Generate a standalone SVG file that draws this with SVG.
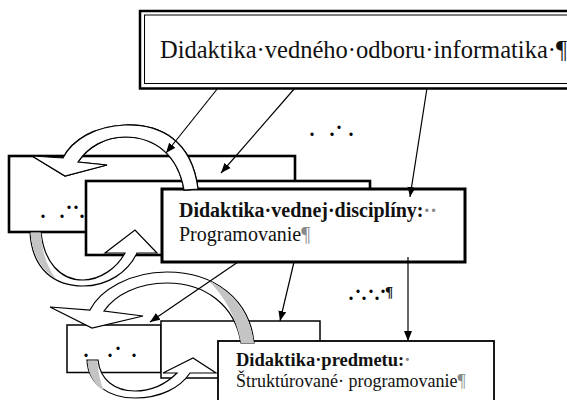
<svg xmlns="http://www.w3.org/2000/svg" width="567" height="400" viewBox="0 0 567 400">
<style>
.box{fill:#fff;stroke:#000}
.t{font-family:"Liberation Serif","Times New Roman",serif;fill:#111}
.b{font-weight:bold}
.g{fill:#888}
.dot{font-family:"Liberation Serif",serif;font-weight:bold;font-size:20px;fill:#000;text-anchor:middle}
.band{fill:#fff;stroke:#000;stroke-width:1.2;stroke-linejoin:miter}
.shade{fill:#c4c4c4;stroke:none}
.edge{fill:none;stroke:#000;stroke-width:1.2}
.conn{fill:none;stroke:#000;stroke-width:1.2;marker-end:url(#ah)}
</style>
<defs>
<marker id="ah" viewBox="0 0 10 10" refX="10" refY="5" markerWidth="10" markerHeight="10" markerUnits="userSpaceOnUse" orient="auto">
<path d="M0,1 L10,5 L0,9 Z" fill="#000"/>
</marker>
</defs>
<rect width="567" height="400" fill="#fff"/>

<g id="top">
<rect x="140" y="11" width="440" height="77.5" class="box" stroke-width="2.5"/>
<rect x="144.5" y="15" width="440" height="68.5" fill="none" stroke="#000" stroke-width="1"/>
<text class="t" x="160" y="57.5" font-size="24.5">Didaktika·vedného·odboru·informatika·¶</text>
</g>

<g id="dots-mid">
<text class="dot"><tspan x="312" y="135.5">.</tspan><tspan x="332" y="135.5">.</tspan><tspan x="339" y="128.5">.</tspan><tspan x="351" y="135.5">.</tspan></text>
</g>

<g id="box1">
<rect x="9" y="156" width="286" height="76" class="box" stroke-width="2.6"/>
<text class="dot"><tspan x="43" y="217.5">.</tspan><tspan x="62" y="217.5">.</tspan><tspan x="69" y="208.5">.</tspan><tspan x="76" y="208.5">.</tspan><tspan x="82" y="217.5">.</tspan></text>
</g>

<g id="box2">
<rect x="86" y="181" width="284" height="74" class="box" stroke-width="2.6"/>
</g>

<g id="box3">
<rect x="162" y="189" width="303" height="73" class="box" stroke-width="3"/>
<text class="t b" x="179" y="217" font-size="20">Didaktika·vednej·disciplíny:<tspan class="g">··</tspan></text>
<text class="t" x="179" y="241" font-size="20">Programovanie<tspan class="g">¶</tspan></text>
</g>

<g id="dots-right">
<text class="dot"><tspan x="351" y="299.5">.</tspan><tspan x="358" y="292.5">.</tspan><tspan x="364" y="299.5">.</tspan><tspan x="371" y="292.5">.</tspan><tspan x="377" y="299.5">.</tspan><tspan x="383" y="292.5">.</tspan></text>
<text class="t b" x="385" y="297" font-size="15">¶</text>
</g>

<g id="box4">
<rect x="67" y="325" width="94" height="47.5" class="box" stroke-width="1.5"/>
<text class="dot"><tspan x="86" y="356.5">.</tspan><tspan x="110" y="356.5">.</tspan><tspan x="118" y="349.5">.</tspan><tspan x="134" y="356.5">.</tspan></text>
</g>

<g id="box5">
<rect x="161" y="321" width="159" height="57" class="box" stroke-width="1.5"/>
</g>

<g id="box6">
<rect x="218" y="341" width="276" height="70" class="box" stroke-width="1.8"/>
<text class="t b" x="236" y="366" font-size="18.5">Didaktika·predmetu:<tspan class="g">·</tspan></text>
<text class="t" x="236" y="387" font-size="18">Štruktúrované· programovanie<tspan class="g">¶</tspan></text>
</g>

<g id="curved-arrows">
<path id="arcA" class="band" d="M198,189 C192,140 160,124 125,125 C95,126 72,140 63,158 L32,156 L65,176 L107,165 L78,162 C88,147 105,137 125,137 C155,137 178,155 184,190 Z"/>
<path class="shade" d="M170,136 C184,148 194,163 198,189 L184.5,190 C182,168 177,150 170,136 Z"/>
<use href="#arcA" class="edge" style="fill:none"/>

<path id="arcB" class="band" d="M30,232 C32,270 55,286 83,286 C108,286 128,272 137,253 L157,253 L135,230 L105,253 L125,253 C117,268 100,280 83,280 C60,280 44,262 41,232 Z"/>
<path class="shade" d="M30.5,233 C32,255 42,270 56,279 C46,266 42,250 41,233 Z"/>

<path id="arcC" class="band" d="M254,343 C250,300 215,272 167,272 C130,272 100,290 90,310 L50,307 L92,328 L143,316 L104,311 C115,295 138,283 167,283 C205,283 235,305 241,343 Z"/>
<path class="shade" d="M208,280 C232,292 250,312 254,343 L241,343 C236,316 224,296 208,280 Z"/>

<path id="arcD" class="band" d="M87,360 C88,385 110,398 135,398 C160,398 180,388 190,373 L216,373 L193,358 L163,373 L177,373 C165,385 150,391 135,391 C115,391 100,380 98,360 Z"/>
<path class="shade" d="M87.5,361 C88,375 95,385 104,391 C100,382 98,372 97.5,361 Z"/>
</g>

<g id="connectors">
<line class="conn" x1="218" y1="88" x2="166" y2="153"/>
<line class="conn" x1="295" y1="88" x2="221" y2="173"/>
<line class="conn" x1="427" y1="88" x2="410" y2="197"/>
<line class="conn" x1="238" y1="262" x2="150" y2="322"/>
<line class="conn" x1="294" y1="262" x2="280" y2="321"/>
<line class="conn" x1="408" y1="257" x2="408" y2="341"/>
</g>
</svg>
